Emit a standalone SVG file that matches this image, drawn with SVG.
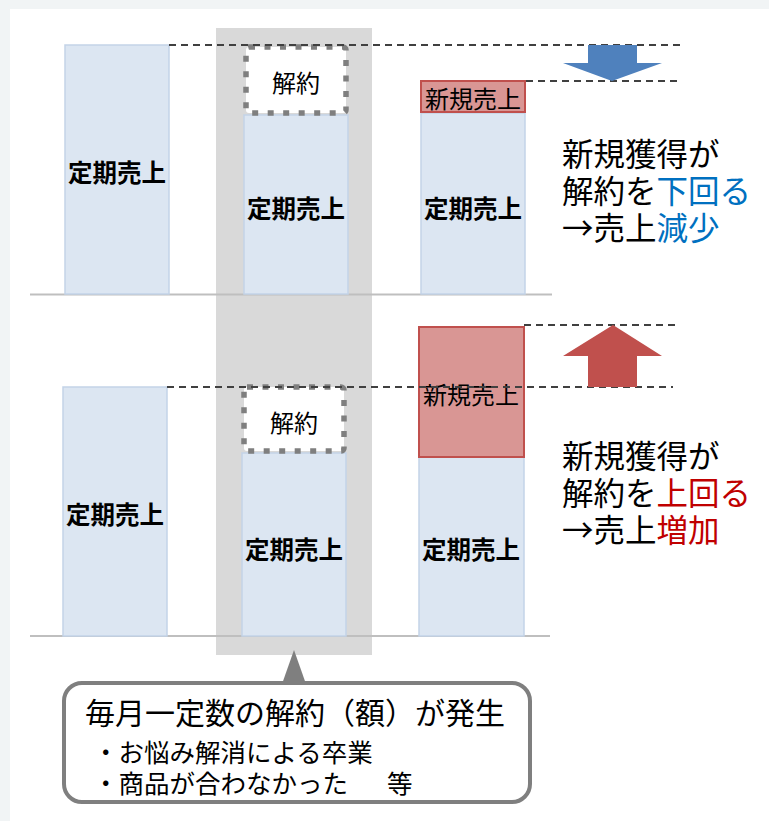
<svg xmlns="http://www.w3.org/2000/svg" width="769" height="821" viewBox="0 0 769 821">
<style>
text{font-family:"Noto Sans CJK JP","Noto Sans",sans-serif;fill:#000}
.bar{fill:#dce6f2;stroke:#c3d3e8;stroke-width:1.5}
.lbl{font-size:24.5px;font-weight:bold;text-anchor:middle;dominant-baseline:central}
.red{fill:#d99694;stroke:#c0504d;stroke-width:2}
.rl{font-size:24px;text-anchor:middle;dominant-baseline:central}
.cancel{fill:#fff;stroke:#7f7f7f;stroke-width:5.5;stroke-dasharray:6 9.5}
.dash{stroke:#404040;stroke-width:1.8;stroke-dasharray:7 5;fill:none}
.base{stroke:#bfbfbf;stroke-width:2}
.side{font-size:31.5px}
.blue{fill:#0070c0}
.crim{fill:#c00000}
</style>
<rect x="0" y="0" width="769" height="821" fill="#f1f4f5"/>
<rect x="10" y="9" width="759" height="812" fill="#fff"/>
<g id="column"><rect x="216" y="28" width="156" height="627" fill="#d9d9d9"/></g>
<g id="baselines">
<line class="base" x1="30" y1="294.5" x2="552" y2="294.5"/>
<line class="base" x1="30" y1="636" x2="550" y2="636"/>
</g>
<g id="top-bar1"><rect class="bar" x="65" y="45" width="104" height="249"/><text class="lbl" x="117" y="171">定期売上</text></g>
<g id="top-bar2"><rect class="bar" x="244" y="115" width="104" height="179"/><text class="lbl" x="296" y="207">定期売上</text></g>
<g id="top-cancel"><rect class="cancel" x="246" y="47" width="100" height="66" rx="3"/><text class="rl" x="296" y="81">解約</text></g>
<g id="top-bar3"><rect class="bar" x="421" y="113" width="104" height="181"/><text class="lbl" x="473" y="207">定期売上</text></g>
<g id="top-new"><rect class="red" x="421" y="81" width="104" height="31"/><text class="rl" x="473" y="97">新規売上</text></g>
<g id="bot-bar1"><rect class="bar" x="63" y="387" width="104" height="249"/><text class="lbl" x="115" y="513">定期売上</text></g>
<g id="bot-bar2"><rect class="bar" x="242" y="453" width="104" height="183"/><text class="lbl" x="294" y="548">定期売上</text></g>
<g id="bot-cancel"><rect class="cancel" x="244" y="387" width="100" height="64" rx="3"/><text class="rl" x="294" y="421">解約</text></g>
<g id="bot-bar3"><rect class="bar" x="419" y="457" width="105" height="179"/><text class="lbl" x="471" y="548">定期売上</text></g>
<g id="bot-new"><rect class="red" x="419" y="327" width="105" height="130"/><text class="rl" x="471" y="393">新規売上</text></g>
<g id="connectors">
<line class="dash" x1="169" y1="45" x2="681" y2="45"/>
<line class="dash" x1="526" y1="81" x2="682" y2="81"/>
<line class="dash" x1="524" y1="325" x2="679" y2="325"/>
<line class="dash" x1="167" y1="387" x2="673" y2="387"/>
<polygon points="588,45 637,45 637,63 662,63 612,81 563,63 588,63" fill="#4f81bd"/>
<polygon points="613,325 662,356 637,356 637,387 588,387 588,356 563,356" fill="#c0504d"/>
</g>
<g id="note-top">
<text class="side" x="562" y="166">新規獲得が</text>
<text class="side" x="562" y="203">解約を<tspan class="blue">下回る</tspan></text>
<text class="side" x="562" y="240">→売上<tspan class="blue">減少</tspan></text>
</g>
<g id="note-bottom">
<text class="side" x="562" y="468">新規獲得が</text>
<text class="side" x="562" y="505">解約を<tspan class="crim">上回る</tspan></text>
<text class="side" x="562" y="542">→売上<tspan class="crim">増加</tspan></text>
</g>
<g id="callout">
<polygon points="294,650 306,684 282,684" fill="#7f7f7f"/>
<rect x="64" y="683" width="466" height="119" rx="18" fill="#fff" stroke="#7f7f7f" stroke-width="4"/>
<text x="85" y="711" font-size="30" dominant-baseline="central">毎月一定数の解約（額）が発生</text>
<text x="93" y="750" font-size="25.5" dominant-baseline="central">・お悩み解消による卒業</text>
<text x="93" y="781" font-size="25.5" dominant-baseline="central">・商品が合わなかった<tspan x="387">等</tspan></text>
</g>
</svg>
